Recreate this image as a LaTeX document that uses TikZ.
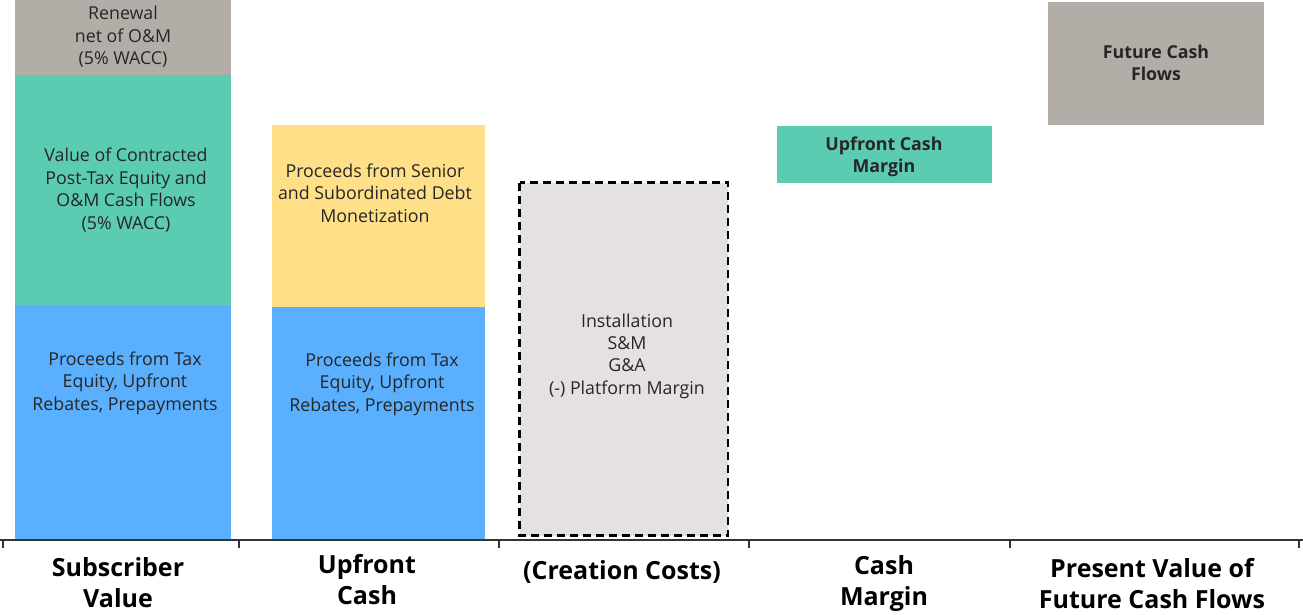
\documentclass[tikz,border=0pt]{standalone}
\usepackage{fontspec}
\setmainfont{Open Sans}
\definecolor{cgrey}{HTML}{B2ADA7}
\definecolor{cgreen}{HTML}{5BCBB1}
\definecolor{cblue}{HTML}{5AAFFE}
\definecolor{cyellow}{HTML}{FFDF88}
\definecolor{ccreate}{HTML}{E6E1E1}
\definecolor{caxis}{HTML}{333333}
\begin{document}
\begin{tikzpicture}[x=1pt,y=-1pt,
  body/.style={align=center,font=\fontsize{17.8}{22.4}\selectfont,text=black!85,inner sep=0pt},
  bodyb/.style={align=center,font=\fontsize{17.8}{22.4}\selectfont\bfseries,text=black!85,inner sep=0pt},
  lab/.style={align=center,font=\fontsize{25}{31}\selectfont\bfseries,inner sep=0pt},
  tick/.style={draw=caxis,line width=1.5pt}]
\useasboundingbox (0,0) rectangle (1303,614);
% Subscriber Value
\fill[cgrey] (15,0) rectangle (231,75);
\fill[cgreen] (15,75) rectangle (231,305);
\fill[cblue] (15,305) rectangle (231,539);
\node[body] (t1) at (123,37) {Renewal\\net of O\&M\\(5\% WACC)};
\node[body] (t2) at (126,190) {Value of Contracted\\Post-Tax Equity and\\O\&M Cash Flows\\(5\% WACC)};
\node[body] (t3) at (125,383) {Proceeds from Tax\\Equity, Upfront\\Rebates, Prepayments};
% Upfront Cash
\fill[cyellow] (272,125) rectangle (485,307);
\fill[cblue] (272,307) rectangle (485,539);
\node[body] (t4) at (375,193) {Proceeds from Senior\\and Subordinated Debt\\Monetization};
\node[body] (t5) at (382,384) {Proceeds from Tax\\Equity, Upfront\\Rebates, Prepayments};
% Creation costs
\draw[fill=ccreate,draw=black,line width=2.6pt,dash pattern=on 8pt off 5pt] (519.5,182.5) rectangle (728,535.5);
\node[body] (t6) at (627,356) {Installation\\S\&M\\G\&A\\(-) Platform Margin};
% Upfront cash margin
\fill[cgreen] (777,126) rectangle (992,183);
\node[bodyb] (t7) at (884,157) {Upfront Cash\\Margin};
% Future cash flows
\fill[cgrey] (1048,2) rectangle (1264,125);
\node[bodyb] (t8) at (1156,63) {Future Cash\\Flows};
% axis
\coordinate (a0) at (0,540);
\coordinate (a1) at (1303,540);
\draw[caxis,line width=2pt] (a0) -- (a1);
\foreach \x in {3,239,499,749,1010,1299} {\draw[tick] (\x,540) -- (\x,548);}
% labels
\node[lab] (l1) at (118,583) {Subscriber\\Value};
\node[lab] (l2) at (367,580) {Upfront\\Cash};
\node[lab] (l3) at (622,572) {(Creation Costs)};
\node[lab] (l4) at (884,583) {Cash\\Margin};
\node[lab] (l5) at (1152,584) {Present Value of\\Future Cash Flows};
\end{tikzpicture}
\end{document}
